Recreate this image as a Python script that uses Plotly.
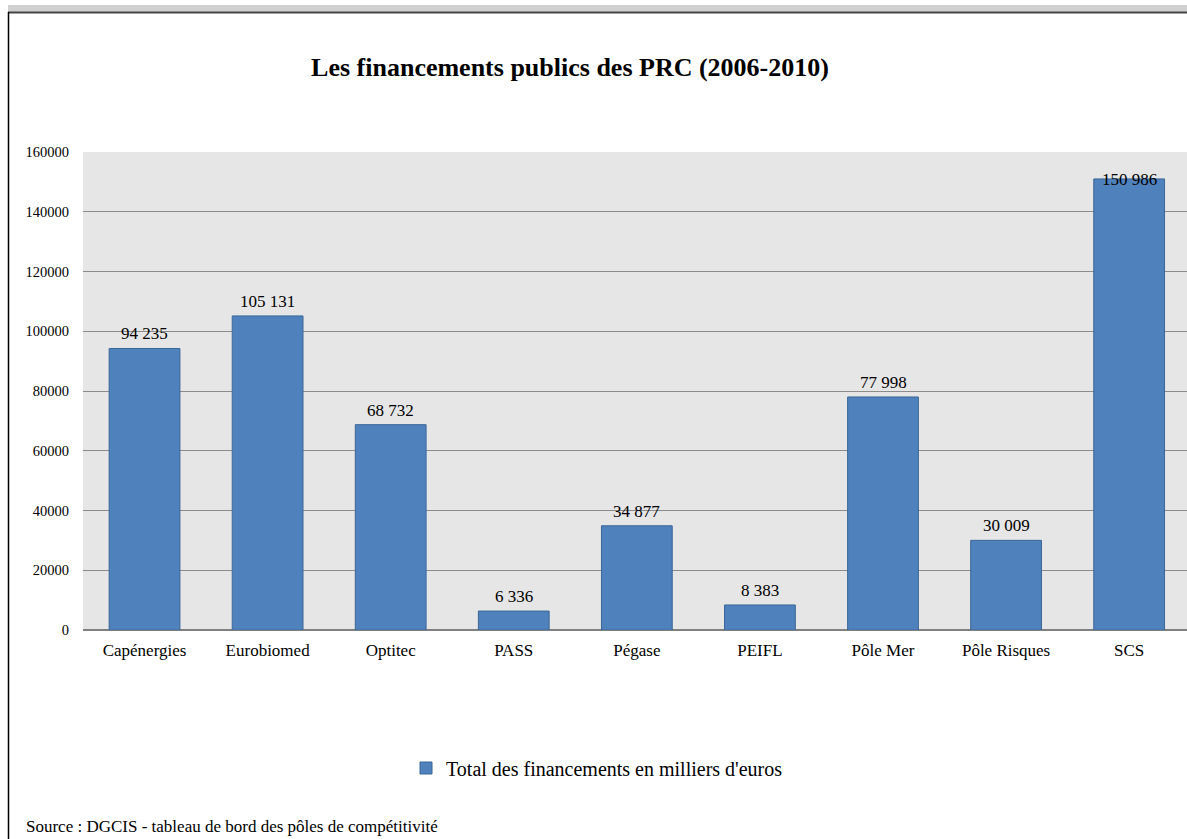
import plotly.graph_objects as go

categories = ["Capénergies", "Eurobiomed", "Optitec", "PASS", "Pégase", "PEIFL",
              "Pôle Mer", "Pôle Risques", "SCS"]
values = [94235, 105131, 68732, 6336, 34877, 8383, 77998, 30009, 150986]
series_name = "Total des financements en milliers d'euros"
title_text = "<b>Les financements publics des PRC (2006-2010)</b>"
source_text = "Source : DGCIS - tableau de bord des pôles de compétitivité"
y_ticks = [0, 20000, 40000, 60000, 80000, 100000, 120000, 140000, 160000]

W, H = 1187, 839
ML, MT, MB = 83, 152, 209
PW = W - ML
PH = H - MT - MB


def px_x(p):
    return (p - ML) / PW


def px_y(p):
    return (H - MB - p) / PH


def fmt(v):
    return f"{v:,}".replace(",", " ")


FONT = "Liberation Serif, Times New Roman, serif"

fig = go.Figure()
fig.add_trace(go.Bar(
    x=categories, y=values, name=series_name, width=0.575,
    marker=dict(color="#4F81BD", line=dict(color="#3A6796", width=1)),
    showlegend=True,
))

ymax = y_ticks[-1]
for c, v in zip(categories, values):
    near_top = v > 0.9 * ymax
    fig.add_annotation(
        x=c, y=v, xref="x", yref="y", text=fmt(v), showarrow=False,
        yanchor="middle" if near_top else "bottom",
        yshift=-1 if near_top else 3,
        font=dict(family=FONT, size=17, color="#000000"),
    )

fig.add_annotation(
    x=px_x(24), y=px_y(826), xref="paper", yref="paper", text=source_text,
    showarrow=False, xanchor="left", yanchor="middle",
    font=dict(family=FONT, size=17, color="#000000"),
)

# frame
fig.add_shape(type="rect", xref="paper", yref="paper",
              x0=px_x(8), x1=px_x(W + 5), y0=px_y(12), y1=px_y(5),
              fillcolor="#D0D0D0", line=dict(width=0), layer="below")
fig.add_shape(type="line", xref="paper", yref="paper",
              x0=px_x(8), x1=px_x(W + 5), y0=px_y(12.5), y1=px_y(12.5),
              line=dict(color="#444444", width=2))
fig.add_shape(type="line", xref="paper", yref="paper",
              x0=px_x(8.5), x1=px_x(8.5), y0=px_y(12), y1=px_y(H + 5),
              line=dict(color="#000000", width=1.5))

fig.update_layout(
    width=W, height=H,
    margin=dict(l=ML, r=0, t=MT, b=MB),
    paper_bgcolor="#FFFFFF",
    plot_bgcolor="#E6E6E6",
    title=dict(text=title_text, x=570 / W, xanchor="center",
               y=1 - 67 / H, yanchor="middle",
               font=dict(family=FONT, size=26, color="#000000")),
    xaxis=dict(
        range=[-0.5, 8.47], showgrid=False,
        tickfont=dict(family=FONT, size=17, color="#000000"),
        showline=False, ticks="outside", ticklen=5, tickcolor="rgba(0,0,0,0)",
        fixedrange=True,
    ),
    yaxis=dict(
        range=[0, ymax], tickvals=y_ticks, ticktext=[str(t) for t in y_ticks],
        showgrid=True, gridcolor="#8C8C8C", gridwidth=1,
        zeroline=True, zerolinecolor="#808080", zerolinewidth=2,
        tickfont=dict(family=FONT, size=14.5, color="#000000"),
        ticks="outside", ticklen=10, tickcolor="rgba(0,0,0,0)",
        showline=False,
    ),
    legend=dict(
        orientation="h", x=px_x(597), xanchor="center", y=px_y(768), yanchor="middle",
        font=dict(family=FONT, size=20, color="#000000"),
        bgcolor="rgba(0,0,0,0)",
    ),
    bargap=0.42,
)

fig.write_html("out.html", config={"displayModeBar": False})

with open("out.html", "r", encoding="utf-8") as f:
    html = f.read()
html = html.replace("<head>", "<head><style>html,body{margin:0;padding:0;overflow:hidden;}</style>", 1)
with open("out.html", "w", encoding="utf-8") as f:
    f.write(html)
